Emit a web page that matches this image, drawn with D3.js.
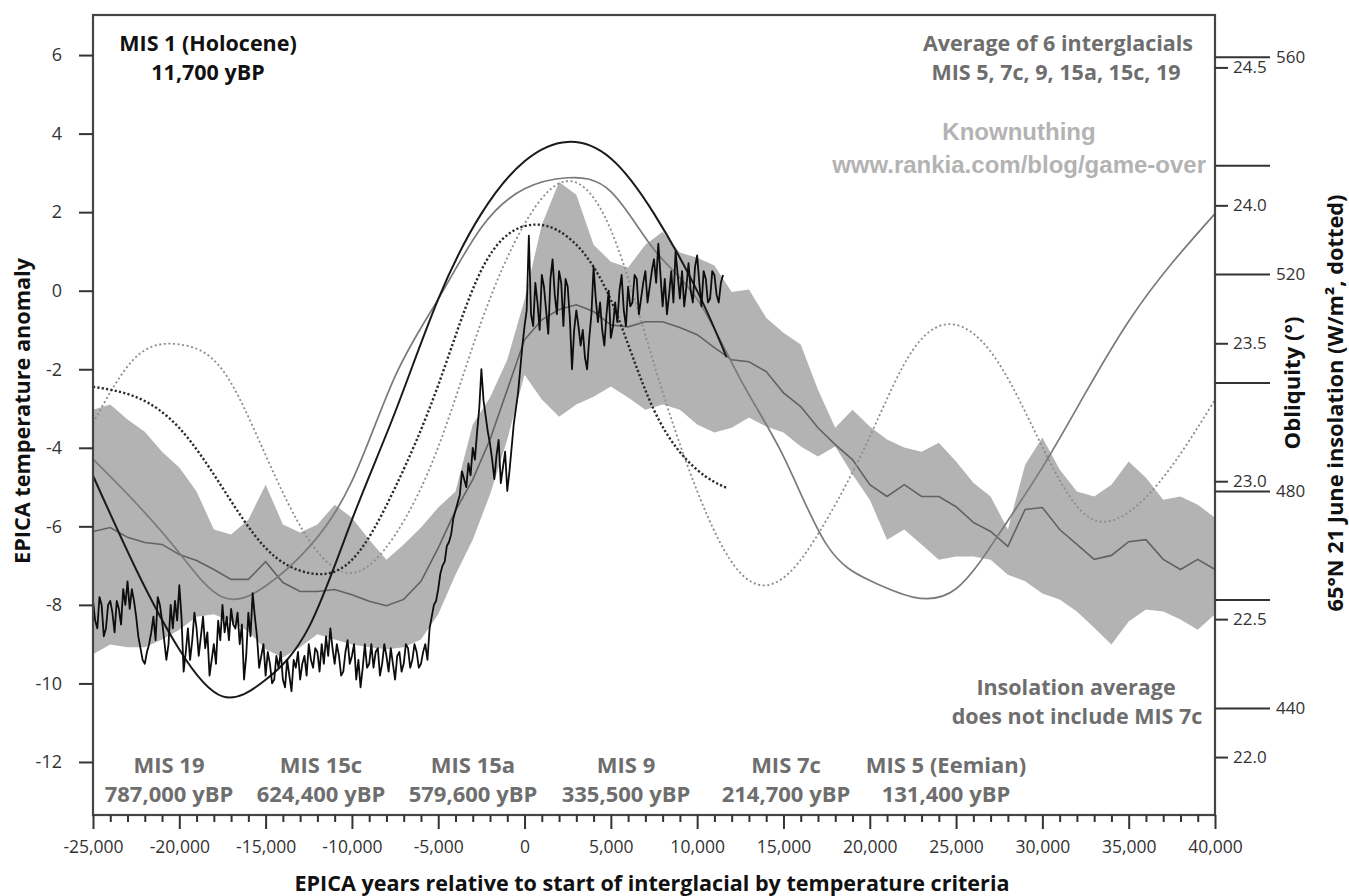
<!DOCTYPE html>
<html><head><meta charset="utf-8">
<script src="https://cdn.jsdelivr.net/npm/d3@7"></script>
<style>body{margin:0;background:#fff}svg{display:block}</style>
</head><body>
<svg id="c" width="1349" height="896"></svg>
<script>
// ---------------- DATA ----------------
const xMajorTicks = [-25000,-20000,-15000,-10000,-5000,0,5000,10000,15000,20000,25000,30000,35000,40000];
const xMinorTicks = [-24000,-23000,-22000,-21000,-19000,-18000,-17000,-16000,-14000,-13000,-12000,-11000,-9000,-8000,-7000,-6000,-4000,-3000,-2000,-1000,1000,2000,3000,4000,6000,7000,8000,9000,11000,12000,13000,14000,16000,17000,18000,19000,21000,22000,23000,24000,26000,27000,28000,29000,31000,32000,33000,34000,36000,37000,38000,39000];
const tempTicks = [6,4,2,0,-2,-4,-6,-8,-10,-12];
const oblTicks = [24.5,24.0,23.5,23.0,22.5,22.0];
const insTicks = [560,540,520,500,480,460,440];
const insLabelled = [560,520,480,440];

// Envelope and mean of 6 interglacials (EPICA temperature anomaly)
const bandYears = [-25000,-24000,-23000,-22000,-21000,-20000,-19000,-18000,-17000,-16000,-15000,-14000,-13000,-12000,-11000,-10000,-9000,-8000,-7000,-6000,-5000,-4000,-3000,-2000,-1000,0,1000,2000,3000,4000,5000,6000,7000,8000,9000,10000,11000,12000,13000,14000,15000,16000,17000,18000,19000,20000,21000,22000,23000,24000,25000,26000,27000,28000,29000,30000,31000,32000,33000,34000,35000,36000,37000,38000,39000,40000];
const bandUpper = [-3.03,-2.90,-3.28,-3.59,-4.10,-4.50,-5.11,-6.08,-6.21,-5.83,-4.94,-5.95,-6.16,-5.95,-5.45,-5.78,-6.34,-6.85,-6.46,-6.03,-5.52,-5.11,-3.41,-2.72,-1.76,
  -0.23,1.68,2.77,2.44,1.17,0.74,0.59,1.17,1.50,0.97,0.84,0.64,-0.03,0.03,-0.69,-1.07,-1.37,-2.52,-3.49,-3.03,-3.46,-3.79,-3.99,-4.10,-3.87,-4.35,-4.89,-5.24,-6.08,-4.43,-3.74,-4.55,-5.11,-5.24,-4.94,-4.35,-4.76,-5.32,-5.24,-5.45,-5.78];
const bandLower = [-9.26,-9.01,-9.08,-9.08,-8.88,-8.63,-8.30,-8.24,-8.42,-8.68,-9.13,-9.34,-9.08,-8.75,-8.88,-9.01,-9.08,-9.13,-9.08,-8.88,-8.24,-7.23,-6.34,-5.19,-3.79,
  -2.14,-2.77,-3.21,-2.90,-2.70,-2.44,-2.72,-3.03,-2.90,-3.03,-3.41,-3.61,-3.49,-3.23,-3.46,-3.61,-3.97,-4.22,-3.97,-4.68,-5.32,-6.34,-6.08,-6.46,-6.85,-6.77,-6.77,-6.85,-7.23,-7.40,-7.71,-7.86,-8.17,-8.58,-9.01,-8.42,-8.12,-8.17,-8.37,-8.63,-8.24];
const bandMean = [-6.13,-6.03,-6.28,-6.41,-6.46,-6.72,-6.87,-7.10,-7.35,-7.35,-6.90,-7.43,-7.66,-7.66,-7.61,-7.74,-7.91,-8.02,-7.86,-7.40,-6.55,-5.60,-4.81,-3.79,-2.52,
  -1.25,-0.74,-0.48,-0.36,-0.53,-0.87,-0.92,-0.79,-0.79,-0.94,-1.12,-1.45,-1.76,-1.81,-2.06,-2.60,-2.95,-3.49,-3.92,-4.30,-4.94,-5.24,-4.94,-5.24,-5.24,-5.50,-5.90,-6.13,-6.51,-5.57,-5.52,-6.08,-6.46,-6.84,-6.74,-6.39,-6.34,-6.84,-7.10,-6.84,-7.10];

// Orbital curves (obliquity solid, 65N 21 June insolation dotted)
const orbYears = [-25000,-22500,-20000,-17500,-15000,-12500,-10000,-7500,-5000,-2500,0,2500,5000,7500,10000,12500,15000,17500,20000,22500,25000,27500,30000,32500,35000,37500,40000];
const avgObliquity = [23.08,22.92,22.74,22.58,22.62,22.76,23.00,23.38,23.66,23.92,24.06,24.10,24.05,23.84,23.66,23.37,23.09,22.77,22.64,22.58,22.61,22.81,23.05,23.32,23.58,23.79,23.97];
const avgInsolation = [492.5,504.7,507.0,502.3,486.6,471.0,464.9,471.9,488.1,511.2,529.2,537.1,528.1,503.4,480.0,464.9,464.0,474.7,490.0,506.0,510.6,503.4,488.1,475.6,476.1,484.6,496.8];

const mis1OrbYears = [-25000,-22500,-20000,-17500,-15000,-12500,-10000,-7500,-5000,-2500,0,2500,5000,7500,10000,11700];
const mis1Obliquity = [23.02,22.68,22.39,22.22,22.28,22.47,22.86,23.25,23.66,23.97,24.16,24.23,24.17,23.97,23.69,23.45];
const mis1Insolation = [499.2,497.3,491.6,480.6,469.5,464.9,467.3,480.6,499.5,520.7,528.8,526.8,515.2,494.9,483.9,480.6];

// MIS 1 (Holocene) EPICA temperature anomaly
const epicaYears = [
  -25000,-24875,-24750,-24625,-24500,-24375,-24250,-24125,
  -24000,-23875,-23750,-23625,-23500,-23375,-23250,-23125,
  -23000,-22875,-22750,-22625,-22500,-22375,-22250,-22125,
  -22000,-21875,-21750,-21625,-21500,-21375,-21250,-21125,
  -21000,-20875,-20750,-20625,-20500,-20375,-20250,-20125,
  -20000,-19875,-19750,-19625,-19500,-19375,-19250,-19125,
  -19000,-18875,-18750,-18625,-18500,-18375,-18250,-18125,
  -18000,-17875,-17750,-17625,-17500,-17375,-17250,-17125,
  -17000,-16875,-16750,-16625,-16500,-16375,-16250,-16125,
  -16000,-15875,-15750,-15625,-15500,-15375,-15250,-15125,
  -15000,-14875,-14750,-14625,-14500,-14375,-14250,-14125,
  -14000,-13875,-13750,-13625,-13500,-13375,-13250,-13125,
  -13000,-12875,-12750,-12625,-12500,-12375,-12250,-12125,
  -12000,-11875,-11750,-11625,-11500,-11375,-11250,-11125,
  -11000,-10875,-10750,-10625,-10500,-10375,-10250,-10125,
  -10000,-9875,-9750,-9625,-9500,-9375,-9250,-9125,
  -9000,-8875,-8750,-8625,-8500,-8375,-8250,-8125,
  -8000,-7875,-7750,-7625,-7500,-7375,-7250,-7125,
  -7000,-6875,-6750,-6625,-6500,-6375,-6250,-6125,
  -6000,-5875,-5750,-5625,-5500,-5375,-5250,-5125,
  -5000,-4875,-4750,-4625,-4500,-4375,-4250,-4125,
  -4000,-3875,-3750,-3625,-3500,-3375,-3250,-3125,
  -3000,-2875,-2750,-2625,-2500,-2375,-2250,-2125,
  -2000,-1875,-1750,-1625,-1500,-1375,-1250,-1125,
  -1000,-875,-750,-625,-500,-375,-250,-125,
  0,125,250,375,500,625,750,875,
  1000,1125,1250,1375,1500,1625,1750,1875,
  2000,2125,2250,2375,2500,2625,2750,2875,
  3000,3125,3250,3375,3500,3625,3750,3875,
  4000,4125,4250,4375,4500,4625,4750,4875,
  5000,5125,5250,5375,5500,5625,5750,5875,
  6000,6125,6250,6375,6500,6625,6750,6875,
  7000,7125,7250,7375,7500,7625,7750,7875,
  8000,8125,8250,8375,8500,8625,8750,8875,
  9000,9125,9250,9375,9500,9625,9750,9875,
  10000,10125,10250,10375,10500,10625,10750,10875,
  11000,11125,11250,11375,11500];
const epicaTemp = [
  -7.9,-8.4,-8.6,-7.8,-8.0,-8.8,-8.6,-8.0,
  -7.9,-8.2,-8.7,-7.9,-8.1,-8.5,-7.6,-8.0,
  -7.4,-8.1,-7.6,-7.9,-8.3,-8.8,-9.1,-9.4,
  -9.5,-9.2,-9.0,-8.7,-8.3,-8.9,-7.8,-8.0,
  -8.4,-8.9,-9.4,-9.0,-8.0,-8.6,-7.9,-8.4,
  -7.5,-8.3,-9.7,-9.2,-8.6,-9.4,-8.9,-8.2,
  -8.6,-9.3,-8.8,-8.3,-9.1,-8.7,-9.8,-9.4,
  -9.0,-9.5,-8.4,-8.9,-8.0,-8.7,-8.3,-8.9,
  -8.1,-8.5,-8.6,-8.2,-9.0,-8.5,-9.9,-9.3,
  -8.2,-8.8,-7.7,-8.3,-8.8,-9.6,-9.3,-9.0,
  -9.8,-9.2,-9.5,-10.0,-9.9,-9.3,-9.6,-9.2,
  -9.9,-10.1,-9.4,-9.8,-10.2,-9.4,-9.6,-9.2,
  -9.9,-9.5,-9.3,-9.8,-9.0,-9.4,-9.6,-9.1,
  -9.2,-9.7,-9.0,-9.5,-8.8,-9.3,-8.6,-9.1,
  -9.5,-9.0,-9.3,-9.8,-9.7,-9.2,-8.9,-9.5,
  -9.3,-9.0,-9.9,-9.4,-10.1,-9.6,-9.0,-9.6,
  -9.5,-9.0,-9.6,-9.2,-9.1,-9.8,-9.5,-9.0,
  -9.3,-9.7,-9.1,-9.5,-9.9,-9.3,-9.2,-9.7,
  -9.5,-9.0,-9.1,-9.6,-9.4,-9.0,-9.2,-9.6,
  -9.5,-9.2,-9.0,-9.4,-8.6,-8.3,-8.0,-7.9,
  -7.6,-7.2,-7.0,-6.9,-6.5,-6.4,-6.2,-5.8,
  -5.6,-5.4,-5.2,-4.6,-4.8,-5.0,-4.4,-4.7,
  -4.0,-4.3,-3.6,-3.0,-2.0,-2.8,-3.2,-3.6,
  -3.9,-4.3,-4.8,-4.2,-3.8,-4.9,-4.5,-4.1,
  -5.1,-4.6,-4.0,-3.4,-3.0,-2.6,-2.0,-1.4,
  -0.9,-0.5,1.4,-0.6,-0.9,0.2,-0.3,-1.0,
  0.4,0.1,-0.5,-1.1,0.3,0.8,-0.1,-0.6,
  0.5,0.2,-0.9,0.3,0.1,-0.7,-2.0,-1.0,
  -0.5,-0.9,-1.4,-1.0,-1.7,-2.0,-1.2,-0.6,
  0.6,-0.2,-0.8,-0.3,-1.0,-1.4,-0.6,0.0,
  -1.2,-0.9,-0.3,-0.8,0.0,0.4,-0.5,-0.9,
  0.1,-0.4,-0.3,0.4,0.3,-0.6,-0.2,0.2,
  0.5,-0.3,0.1,0.5,0.8,0.2,1.2,0.4,
  -0.4,0.3,-0.6,-0.1,0.5,-0.3,1.0,0.4,
  -0.2,0.5,-0.4,0.1,0.7,0.0,-0.3,0.6,
  0.9,0.2,-0.4,0.5,0.3,-0.3,-0.2,0.5,
  0.4,-0.1,-0.3,0.2,0.4];

// Annotations
const misNames = ["MIS 19","MIS 15c","MIS 15a","MIS 9","MIS 7c","MIS 5 (Eemian)"];
const misDates = ["787,000 yBP","624,400 yBP","579,600 yBP","335,500 yBP","214,700 yBP","131,400 yBP"];

// ---------------- DRAW ----------------
const FONT = "'Open Sans','DejaVu Sans',sans-serif";
const svg = d3.select('#c');
const L=93, R=1215, T=15, B=815;
const x = d3.scaleLinear().domain([-25000,40000]).range([L,R]);
const y = d3.scaleLinear().domain([-13.35,7.02]).range([B,T]);
const yObl = d3.scaleLinear().domain([21.79,24.69]).range([B,T]);
const yIns = d3.scaleLinear().domain([420.3,567.7]).range([B,T]);

svg.append('defs').append('clipPath').attr('id','clip')
  .append('rect').attr('x',L).attr('y',T).attr('width',R-L).attr('height',B-T);
const g = svg.append('g').attr('clip-path','url(#clip)');

const band = bandYears.map((yr,i)=>({yr, lo:bandLower[i], hi:bandUpper[i], m:bandMean[i]}));
g.append('path').datum(band)
  .attr('d', d3.area().x(d=>x(d.yr)).y0(d=>y(d.lo)).y1(d=>y(d.hi)))
  .attr('fill','#b3b3b3');
g.append('path').datum(band)
  .attr('d', d3.line().x(d=>x(d.yr)).y(d=>y(d.m)))
  .attr('fill','none').attr('stroke','#626262').attr('stroke-width',1.6);

function curve(years, vals, sc){
  return d3.line().x((d,i)=>x(years[i])).y(d=>sc(d)).curve(d3.curveNatural)(vals);
}
g.append('path').attr('d', curve(orbYears, avgInsolation, yIns))
  .attr('fill','none').attr('stroke','#8c8c8c').attr('stroke-width',1.8).attr('stroke-dasharray','2,2.6');
g.append('path').attr('d', curve(mis1OrbYears, mis1Insolation, yIns))
  .attr('fill','none').attr('stroke','#2a2a2a').attr('stroke-width',2.4).attr('stroke-dasharray','2.2,2.2');
g.append('path').attr('d', curve(orbYears, avgObliquity, yObl))
  .attr('fill','none').attr('stroke','#7a7a7a').attr('stroke-width',1.7);
g.append('path').attr('d', curve(mis1OrbYears, mis1Obliquity, yObl))
  .attr('fill','none').attr('stroke','#1a1a1a').attr('stroke-width',2);
g.append('path').attr('d', d3.line().x((d,i)=>x(epicaYears[i])).y(d=>y(d))(epicaTemp))
  .attr('fill','none').attr('stroke','#0d0d0d').attr('stroke-width',1.8).attr('stroke-linejoin','round');

svg.append('rect').attr('x',L).attr('y',T).attr('width',R-L).attr('height',B-T)
  .attr('fill','none').attr('stroke','#454545').attr('stroke-width',2.2);

function styleAxis(sel, fs){
  sel.select('.domain').remove();
  sel.selectAll('.tick line').attr('stroke','#333').attr('stroke-width',2);
  sel.selectAll('.tick text').attr('font-family',FONT).attr('font-size',fs).attr('fill','#333');
}
const hy = d => (d<0?'-':'') + d3.format(',')(Math.abs(d));

svg.append('g').attr('transform',`translate(${L},0)`)
  .call(d3.axisLeft(y).tickValues(tempTicks).tickSize(14).tickPadding(17).tickFormat(d=>hy(d)))
  .call(s=>styleAxis(s,18));

svg.append('g').attr('transform',`translate(0,${B})`)
  .call(d3.axisBottom(x).tickValues(xMinorTicks).tickSize(7).tickFormat(''))
  .call(s=>styleAxis(s,17));
svg.append('g').attr('transform',`translate(0,${B})`)
  .call(d3.axisBottom(x).tickValues(xMajorTicks).tickSize(14).tickPadding(12).tickFormat(hy))
  .call(s=>styleAxis(s,17.5));

svg.append('g').attr('transform',`translate(${R},0)`)
  .call(d3.axisRight(yObl).tickValues(oblTicks).tickSize(13).tickPadding(5).tickFormat(d3.format('.1f')))
  .call(s=>styleAxis(s,17));
svg.append('g').attr('transform',`translate(${R},0)`)
  .call(d3.axisRight(yIns).tickValues(insTicks).tickSize(55).tickPadding(6)
    .tickFormat(d=>insLabelled.includes(d)?String(d):''))
  .call(s=>styleAxis(s,17));

function txt(xx,yy,str,opt={}){
  const t = svg.append('text').attr('x',xx).attr('y',yy).text(str)
    .attr('font-family',opt.font||FONT).attr('font-size',opt.size||19)
    .attr('font-weight',opt.weight||700).attr('fill',opt.fill||'#111')
    .attr('text-anchor',opt.anchor||'middle');
  if(opt.len) t.attr('textLength',opt.len).attr('lengthAdjust','spacingAndGlyphs');
  return t;
}
txt(652,891,'EPICA years relative to start of interglacial by temperature criteria',{size:21,len:715});
txt(0,0,'EPICA temperature anomaly',{size:21,len:306}).attr('transform','translate(30,411) rotate(-90)');
txt(0,0,'Obliquity (°)',{size:21,len:133}).attr('transform','translate(1300,383) rotate(-90)');
txt(0,0,'65°N 21 June insolation (W/m², dotted)',{size:21,len:417}).attr('transform','translate(1343,403) rotate(-90)');

txt(208,51,'MIS 1 (Holocene)',{size:21.5});
txt(208,80,'11,700 yBP',{size:21.5});
txt(1058,51,'Average of 6 interglacials',{size:21.5,fill:'#6e6e6e'});
txt(1056,80,'MIS 5, 7c, 9, 15a, 15c, 19',{size:21.5,fill:'#6e6e6e'});
txt(1019,140,'Knownuthing',{size:24,fill:'#b3b3b3',font:"'Liberation Sans',Arial,sans-serif"});
txt(1206,173,'www.rankia.com/blog/game-over',{size:24,fill:'#b3b3b3',anchor:'end',font:"'Liberation Sans',Arial,sans-serif"});
txt(1076,695,'Insolation average',{size:21.5,fill:'#6e6e6e'});
txt(1077,724,'does not include MIS 7c',{size:21.5,fill:'#6e6e6e'});
const misX = [169,321,473,626,786,946];
misNames.forEach((n,i)=>{
  txt(misX[i],773,n,{size:22,fill:'#6e6e6e'});
  txt(misX[i],802,misDates[i],{size:22,fill:'#6e6e6e'});
});
</script>
</body></html>
